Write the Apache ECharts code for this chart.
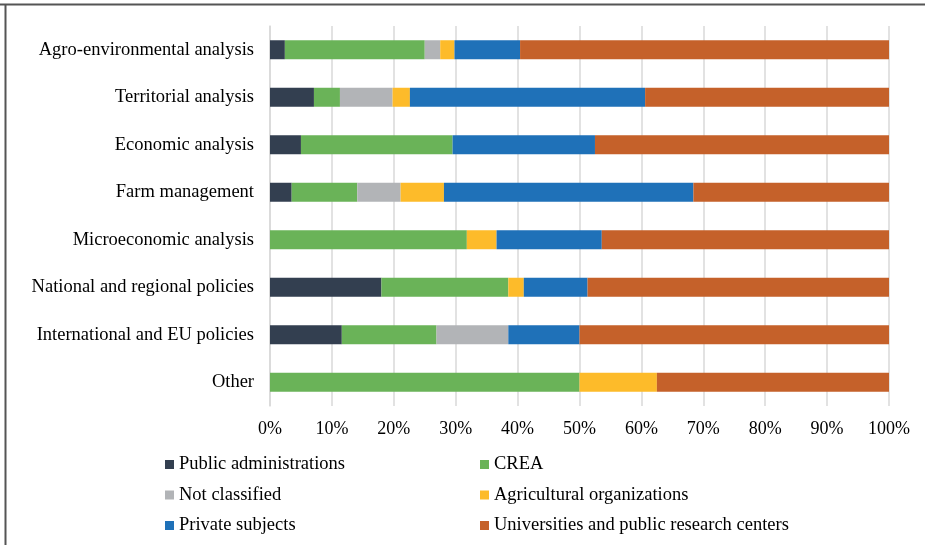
<!doctype html>
<html>
<head>
<meta charset="UTF-8">
<title>Stacked bar</title>
<script src="https://cdn.jsdelivr.net/npm/echarts@6/dist/echarts.min.js"></script>
<style>
  html, body { margin: 0; padding: 0; background: #fff; }
  #chart { width: 925px; height: 545px; }
</style>
</head>
<body>
<div id="chart"></div>
<script>
// categories, top to bottom
var categories = ['Agro-environmental analysis', 'Territorial analysis', 'Economic analysis',
  'Farm management', 'Microeconomic analysis', 'National and regional policies',
  'International and EU policies', 'Other'];

// shares in %, one value per category
var publicAdmin  = [2.4, 7.1, 5.0, 3.5, 0, 18.0, 11.6, 0];
var crea         = [22.6, 4.2, 24.5, 10.6, 31.8, 20.5, 15.3, 50.0];
var notClass     = [2.5, 8.5, 0, 7.0, 0, 0, 11.6, 0];
var agriOrg      = [2.3, 2.8, 0, 7.0, 4.8, 2.5, 0, 12.5];
var privateSubj  = [10.6, 38.0, 23.0, 40.3, 17.0, 10.3, 11.5, 0];
var universities = [59.6, 39.4, 47.5, 31.6, 46.4, 48.7, 50.0, 37.5];

var xTicks = [0, 10, 20, 30, 40, 50, 60, 70, 80, 90, 100];

var serif = '"Liberation Serif", "DejaVu Serif", serif';

function bar(name, data, color) {
  return {
    name: name,
    type: 'bar',
    stack: 'total',
    barWidth: 19,
    data: data,
    itemStyle: { color: color },
    emphasis: { disabled: true }
  };
}

var legendText = { color: '#000', fontSize: 18.5, fontFamily: serif, lineHeight: 18 };

var chart = echarts.init(document.getElementById('chart'));
chart.setOption({
  animation: false,
  grid: { left: 270, right: 36, top: 26, bottom: 139 },
  xAxis: {
    type: 'value',
    min: 0,
    max: 100,
    interval: 10,
    axisLine: { show: false },
    axisTick: { show: false },
    splitLine: { lineStyle: { color: '#d9d9d9', width: 1.5 } },
    axisLabel: {
      margin: 14,
      color: '#000',
      fontSize: 18,
      fontFamily: serif,
      formatter: function (v) { return xTicks.indexOf(v) >= 0 ? v + '%' : ''; }
    }
  },
  yAxis: {
    type: 'category',
    inverse: true,
    data: categories,
    axisLine: { lineStyle: { color: '#d9d9d9', width: 1.5 } },
    axisTick: { show: false },
    axisLabel: { margin: 16, color: '#000', fontSize: 18.5, fontFamily: serif }
  },
  legend: [{
    left: 160, top: 450, orient: 'vertical',
    itemWidth: 9, itemHeight: 9, itemGap: 11.5,
    icon: 'rect',
    textStyle: legendText,
    data: ['Public administrations', 'Not classified', 'Private subjects']
  }, {
    left: 475, top: 450, orient: 'vertical',
    itemWidth: 9, itemHeight: 9, itemGap: 11.5,
    icon: 'rect',
    textStyle: legendText,
    data: ['CREA', 'Agricultural organizations', 'Universities and public research centers']
  }],
  graphic: [
    { type: 'line', shape: { x1: 0, y1: 4.5, x2: 925, y2: 4.5 }, style: { stroke: '#555', lineWidth: 2 } },
    { type: 'line', shape: { x1: 5.5, y1: 4, x2: 5.5, y2: 545 }, style: { stroke: '#555', lineWidth: 2 } }
  ],
  series: [
    bar('Public administrations', publicAdmin, '#333f50'),
    bar('CREA', crea, '#6ab358'),
    bar('Not classified', notClass, '#b2b4b7'),
    bar('Agricultural organizations', agriOrg, '#fdbb2a'),
    bar('Private subjects', privateSubj, '#1f71b8'),
    bar('Universities and public research centers', universities, '#c5612a')
  ]
});
</script>
</body>
</html>
